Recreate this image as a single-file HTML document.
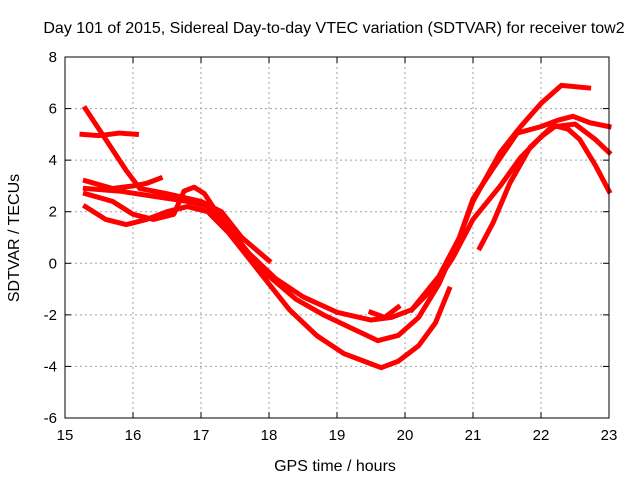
<!DOCTYPE html>
<html><head><meta charset="utf-8"><style>
body{margin:0;background:#fff}
svg{display:block;font-family:"Liberation Sans",sans-serif}
</style></head><body>
<svg id="chart" width="640" height="480">
<rect width="640" height="480" fill="#fff"/>
<text x="334" y="33" font-size="16" text-anchor="middle">Day 101 of 2015, Sidereal Day-to-day VTEC variation (SDTVAR) for receiver tow2</text>
<g id="grid"></g>
<g id="series"></g>
<rect x="65" y="57" width="544" height="361" fill="none" stroke="#000" stroke-width="1"/>
<g id="axes"></g>
<text x="335" y="471" font-size="16" text-anchor="middle">GPS time / hours</text>
<text x="19" y="238" font-size="16" text-anchor="middle" transform="rotate(-90 19 238)">SDTVAR / TECUs</text>
</svg>
<script>
const xTicks=[15,16,17,18,19,20,21,22,23];
const yTicks=[-6,-4,-2,0,2,4,6,8];
const traceA=[[15.3,6.0],[15.6,4.8],[15.9,3.6],[16.1,2.9],[16.5,2.7],[17.0,2.4],[17.3,2.0],[17.6,1.0],[18.0,0.1]];
const traceB=[[15.25,5.0],[15.5,4.95],[15.8,5.05],[16.05,5.0]];
const traceC=[[15.3,3.2],[15.7,2.9],[16.0,3.0],[16.2,3.1],[16.4,3.3]];
const traceD=[[15.3,2.9],[15.8,2.8],[16.3,2.6],[16.8,2.4],[17.1,2.2],[17.4,1.4],[17.7,0.4],[18.1,-0.6],[18.5,-1.3],[19.0,-1.9],[19.5,-2.2],[19.8,-2.1],[20.1,-1.8],[20.4,-1.0],[20.7,0.2],[21.0,1.7],[21.4,3.0],[21.7,4.1],[22.0,4.9],[22.2,5.3],[22.5,5.4],[22.8,4.8],[23.0,4.3]];
const traceE=[[15.3,2.7],[15.7,2.4],[16.0,1.9],[16.3,1.7],[16.6,1.9],[16.75,2.8],[16.9,2.95],[17.05,2.7],[17.3,1.7],[17.6,0.6],[18.0,-0.5],[18.4,-1.4],[18.8,-2.0],[19.2,-2.5],[19.6,-3.0],[19.9,-2.8],[20.2,-2.1],[20.5,-0.8],[20.8,1.0],[21.0,2.4],[21.4,4.3],[21.7,5.3],[22.0,6.2],[22.3,6.9],[22.7,6.8]];
const traceF=[[15.3,2.2],[15.6,1.7],[15.9,1.5],[16.2,1.7],[16.5,2.0],[16.8,2.2],[17.1,2.0],[17.4,1.2],[17.7,0.2],[18.0,-0.8],[18.3,-1.8],[18.7,-2.8],[19.1,-3.5],[19.4,-3.8],[19.65,-4.05],[19.9,-3.8],[20.2,-3.2],[20.45,-2.3],[20.65,-1.0]];
const traceG=[[20.1,-1.8],[20.5,-0.5],[20.8,1.0],[21.0,2.5],[21.3,3.7],[21.65,5.05],[22.0,5.3],[22.25,5.55],[22.47,5.7],[22.72,5.45],[23.0,5.3]];
const traceH=[[21.1,0.6],[21.3,1.6],[21.54,3.1],[21.84,4.5],[22.18,5.35],[22.4,5.2],[22.57,4.8],[22.8,3.8],[23.0,2.8]];
const traceI=[[19.5,-1.9],[19.7,-2.1],[19.9,-1.7]];
const traces=[traceA,traceB,traceC,traceD,traceE,traceF,traceG,traceH,traceI];
const X0=65,X1=609,Y0=418,Y1=57;
const sx=v=>X0+(v-15)/(23-15)*(X1-X0);
const sy=v=>Y0-(v+6)/(8+6)*(Y0-Y1);
const NS="http://www.w3.org/2000/svg";
const grid=document.getElementById('grid'),axes=document.getElementById('axes'),ser=document.getElementById('series');
function mk(t,a,p){const e=document.createElementNS(NS,t);for(const k in a)e.setAttribute(k,a[k]);p.appendChild(e);return e;}
xTicks.forEach(v=>{const x=sx(v);
 if(v>15&&v<23){const g=mk('line',{x1:x,x2:x,y1:Y1,y2:Y0,stroke:'#a0a0a0','stroke-dasharray':'2,3'},grid);
 
 }
 const t=mk('line',{x1:x,x2:x,y1:Y0,y2:Y0-6,stroke:'#000'},axes);
 
 
 const t2=mk('line',{x1:x,x2:x,y1:Y1,y2:Y1+6,stroke:'#000'},axes);
 
 
 const l=mk('text',{x:x,y:Y0+22,'font-size':15,'text-anchor':'middle'},axes);l.textContent=v;
 
 
});
yTicks.forEach(v=>{const y=sy(v);
 if(v>-6&&v<8){const g=mk('line',{x1:X0,x2:X1,y1:y,y2:y,stroke:'#a0a0a0','stroke-dasharray':'2,3'},grid);
 
 }
 const t=mk('line',{x1:X0,x2:X0+6,y1:y,y2:y,stroke:'#000'},axes);
 
 
 const t2=mk('line',{x1:X1,x2:X1-6,y1:y,y2:y,stroke:'#000'},axes);
 
 
 const l=mk('text',{x:X0-8,y:y+5,'font-size':15,'text-anchor':'end'},axes);l.textContent=v;
 
 
});
traces.forEach(tr=>{
 const p=mk('polyline',{points:tr.map(d=>sx(d[0])+','+sy(d[1])).join(' '),fill:'none',stroke:'#ff0000','stroke-width':5,'stroke-linejoin':'round','stroke-linecap':'square'},ser);
 
 
});
</script>
</body></html>
